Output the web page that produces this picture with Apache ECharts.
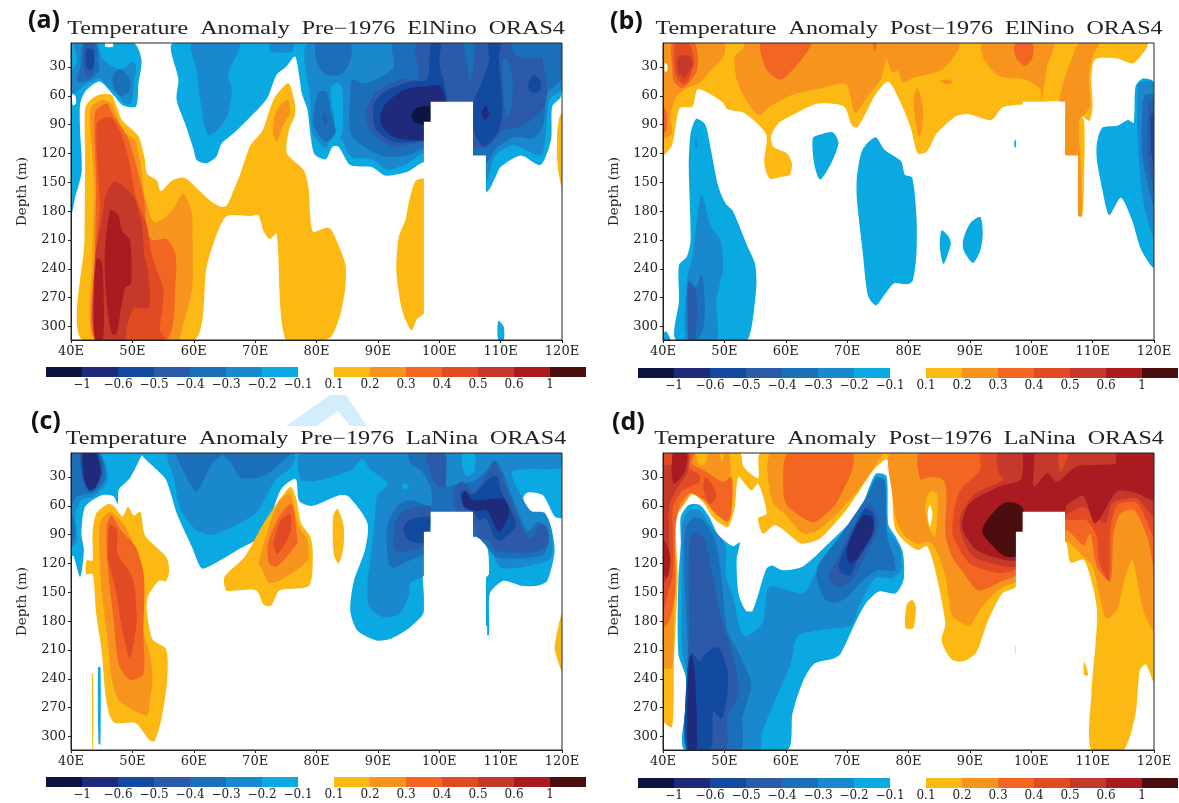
<!DOCTYPE html>
<html lang="en">

<head>
    <meta charset="utf-8" />
    <title>Temperature Anomaly ORAS4</title>
    <style>
        html, body { margin: 0; padding: 0; background: #fff; }
        #main { width: 1179px; height: 803px; }
    </style>
    <script src="https://cdn.jsdelivr.net/npm/echarts@6/dist/echarts.min.js"></script>
</head>

<body>
    <div id="main"></div>
    <script>
        // contour levels and their shades, same order as the colour bar
        const negLevels = [-1, -0.6, -0.5, -0.4, -0.3, -0.2, -0.1];
        const posLevels = [0.1, 0.2, 0.3, 0.4, 0.5, 0.6, 1];
        const negColors = ['#0c1440', '#202a7a', '#114a9f', '#2b5aa8', '#1b6fb9', '#1a88cc', '#0aa9e1'];
        const posColors = ['#fdb913', '#f7941d', '#f26522', '#e24a24', '#c4392a', '#a91b20', '#4b0e0e'];
        const negLabels = ['\u22121', '\u22120.6', '\u22120.5', '\u22120.4', '\u22120.3', '\u22120.2', '\u22120.1'];
        const posLabels = ['0.1', '0.2', '0.3', '0.4', '0.5', '0.6', '1'];

        const lonTicks = [40, 50, 60, 70, 80, 90, 100, 110, 120];
        const depthTicks = [30, 60, 90, 120, 150, 180, 210, 240, 270, 300];

        // missing data block [lon, depth]
        const landMask = [[97.5, 314], [97.5, 87], [98.6, 87], [98.6, 66], [105.5, 66], [105.5, 122], [107.6, 122], [107.6, 185], [107.8, 185], [107.8, 314]];

        // every panel: [level, outline in [lon, depth]], painted in this order, level 0 = no shading
        const panelA = [
            [-0.1, [[40, 5], [50.2, 5], [51.5, 23], [51, 47], [50.6, 71], [48.5, 70], [46.9, 59], [44.7, 45], [42.5, 54], [41.5, 68], [41.5, 99], [41.7, 120], [41.7, 141], [40.7, 165], [40.2, 181], [40, 181]]],
            [-0.1, [[56.7, 5], [57.5, 43], [57.2, 64], [58.6, 89], [60, 116], [60.5, 127], [62.1, 130], [63.7, 123], [64.5, 110], [66.5, 99], [69.2, 82], [71.9, 63], [73.5, 38], [75, 30], [76.5, 19], [77.2, 40], [77.6, 57], [78.5, 74], [79.6, 120], [81.5, 126], [82.6, 113], [83.6, 113], [85.5, 132], [89, 134], [91.3, 143], [94.8, 139], [97.5, 129], [100, 135], [107.6, 160], [109.2, 144], [110, 134], [113.3, 122], [116.5, 132], [118.2, 106], [118.4, 71], [119.8, 61], [120, 5]]],
            [-0.1, [[109.6, 294], [110.5, 300], [110.5, 314], [109.6, 314]]],
            [-0.2, [[40.6, 5], [44.2, 5], [45, 20], [48, 33], [50, 25], [50.6, 28], [50.2, 50], [49.8, 68], [48.8, 68], [47.5, 58], [46, 50], [44.7, 42], [42.5, 48], [41, 55], [40, 60], [40, 35], [41, 25]]],
            [-0.2, [[59.7, 5], [60.5, 35], [61, 61], [61.8, 92], [62.4, 101], [63.8, 96], [65.4, 82], [66.2, 54], [65.6, 37], [67.5, 5]]],
            [-0.2, [[72.4, 5], [72.6, 14], [76, 14], [76.2, 5]]],
            [-0.2, [[78.8, 5], [79, 64], [79.3, 99], [80, 105], [81.5, 115], [82.4, 105], [84, 105], [85.5, 123], [89, 126], [91.5, 137], [94.8, 130], [97.5, 120], [100, 125], [107.6, 148], [108.6, 130], [109.4, 120], [112.2, 111], [116.5, 122], [117.3, 103], [117.9, 64], [119.8, 54], [120, 5]]],
            [-0.1, [[82.4, 50], [83.5, 47], [84.2, 52], [84.3, 80], [84.2, 99], [83.5, 106], [82.6, 106], [82.9, 85], [82.4, 65]]],
            [-0.3, [[42, 5], [44, 5], [44.5, 20], [44.5, 35], [42.5, 45], [41, 45], [41.5, 30]]],
            [-0.3, [[46.8, 40], [48, 32], [49.5, 42], [49.5, 55], [48, 60], [47, 52]]],
            [-0.3, [[80, 5], [80.1, 26], [81.5, 38], [84.2, 37], [85.5, 23], [85.5, 5]]],
            [-0.3, [[80.4, 56], [81.7, 56], [82.3, 75], [83.1, 98], [81.5, 108], [79.6, 92], [79.6, 75]]],
            [-0.3, [[92.6, 5], [92.6, 30], [90, 42], [87.7, 47], [85.8, 43], [85.5, 61], [85.5, 99], [87.7, 113], [91, 123], [94.8, 122], [97.5, 115], [100, 120], [107.6, 130], [109.2, 115], [112.2, 103], [115.4, 104], [117, 89], [117.6, 57], [119.8, 43], [120, 5]]],
            [-0.4, [[42.3, 5], [43.8, 5], [43.8, 25], [43.6, 37], [42.5, 40], [42, 30]]],
            [-0.4, [[81, 80], [81.4, 78], [81.7, 86], [81.3, 92]]],
            [-0.4, [[96.4, 5], [96.7, 42], [93.7, 43], [89.6, 57], [88, 78], [89, 99], [92.6, 113], [97.5, 108], [100, 110], [107.6, 113], [110.5, 96], [113.3, 92], [116.8, 75], [117.6, 54], [116.8, 19], [116.8, 5]]],
            [-0.3, [[112, 5], [112.2, 16], [113.8, 21], [116.8, 19], [116.8, 5]]],
            [-0.3, [[110.3, 24], [111, 20], [111.9, 40], [111.8, 70], [111, 82], [110.6, 70]]],
            [-0.3, [[104, 5], [105.7, 5], [105.6, 30], [105, 47], [104.6, 30]]],
            [-0.5, [[42.5, 12], [43.6, 12], [43.8, 25], [43.3, 33], [42.5, 30]]],
            [-0.5, [[89.4, 68], [91.5, 54], [95.3, 45], [98, 43], [98.7, 5], [100.2, 5], [100, 26], [100.8, 47], [101.3, 66], [101, 90], [97.5, 106], [92.6, 108], [89.6, 94]]],
            [-0.5, [[108.1, 5], [110, 5], [109.7, 19], [110, 43], [110.3, 71], [109.7, 96], [107.3, 113], [105.7, 97], [105.7, 64], [106.7, 50], [108.1, 23]]],
            [-0.5, [[114.6, 45], [115.4, 38], [116.5, 45], [116.5, 54], [115.4, 57], [114.6, 54]]],
            [-0.6, [[90.4, 80], [91.3, 68], [94.2, 54], [97.5, 50], [100.2, 50], [101, 64], [100, 90], [97.5, 106], [95.9, 106], [92.6, 103], [90.7, 92]]],
            [-0.6, [[107.5, 70], [108.1, 78], [107.5, 85], [106.9, 78]]],
            [-1, [[95.5, 80], [96.2, 73], [98.6, 71], [98.8, 90], [97.4, 90], [95.9, 87]]],
            [0.1, [[41.8, 314], [42.2, 210], [42.3, 130], [42.3, 73], [43.2, 64], [44.5, 59], [46.6, 59], [47.5, 72], [48.3, 85], [51, 102], [52, 125], [52.4, 141], [54, 148], [54.6, 159], [56.5, 148], [58.4, 145], [60.5, 156], [62.5, 168], [64.3, 175], [65.4, 174], [66.5, 158], [67.6, 141], [69.2, 112], [71.2, 96], [73, 64], [75.4, 47], [76.5, 68], [76.5, 80], [75.5, 96], [75.2, 120], [77.9, 137], [78.7, 155], [79.4, 201], [81.7, 197], [82.5, 200], [84.7, 235], [84.7, 259], [83.9, 287], [82.5, 310], [81, 314], [75, 314], [73.5, 203], [72.4, 209], [71.4, 201], [70.5, 184], [69.2, 185], [65.4, 185], [63.8, 203], [62.1, 238], [60.1, 314]]],
            [0.1, [[97.6, 147], [96.1, 149], [95, 172], [94.5, 189], [93.4, 207], [93, 241], [93.7, 276], [94.5, 293], [95.5, 304], [96.4, 292], [97.6, 285]]],
            [0.1, [[120, 78], [119.6, 82], [119.2, 99], [119.3, 134], [120, 155]]],
            [0.2, [[43.2, 73], [45, 64], [46.6, 68], [48.5, 97], [50.4, 106], [51.5, 137], [51.8, 158], [53.4, 191], [55, 188], [56.7, 177], [58.3, 161], [59.7, 182], [59.8, 203], [59.7, 262], [58, 304], [57.5, 314], [43.9, 314], [43.5, 227], [43.8, 158], [43.4, 116]]],
            [0.2, [[75.4, 64], [75.7, 78], [74.6, 90], [73.5, 108], [72.9, 99], [73.3, 78], [74.1, 70]]],
            [0.3, [[43.9, 78], [45.8, 68], [46.9, 80], [49.3, 104], [50.7, 134], [52, 170], [52.3, 200], [53.2, 210], [55.6, 209], [57, 224], [57.1, 248], [55.6, 314], [44, 314], [43.9, 230], [44.1, 150]]],
            [0.4, [[44.2, 89], [46.4, 82], [48, 97], [49.3, 123], [50.7, 168], [52.3, 193], [53.2, 227], [55, 259], [55, 276], [54.5, 304], [55.4, 314], [44.2, 314], [44, 245], [44.2, 210], [44.7, 175]]],
            [0.5, [[47.2, 149], [50.2, 165], [51.5, 193], [52, 227], [52.6, 245], [52.7, 280], [50.2, 281], [49, 304], [48.8, 314], [44, 314], [43.9, 230], [45, 190], [45.8, 160]]],
            [0.6, [[46.4, 179], [47.7, 184], [48.3, 200], [49.6, 210], [49.8, 255], [48.8, 260], [47.4, 308], [46.6, 307], [45.8, 273], [45.5, 227]]],
            [0.6, [[44.2, 229], [45, 233], [45.3, 262], [45.2, 314], [43.9, 314], [43.8, 262]]],
            [0, [[40.2, 58], [40.7, 60], [40.8, 68], [40.3, 70]]],
            [0, [[45.6, 5], [46.8, 5], [46.8, 9], [45.6, 9]]]
        ];

        const panelB = [
            [0.1, [[40, 5], [118.8, 5], [116.7, 26], [114, 21], [110.4, 22], [109.8, 43], [110, 71], [109.5, 86], [108.3, 81], [105, 66], [98.6, 69], [95.3, 72], [93.5, 85], [89.9, 79], [87.8, 81], [85.7, 92], [84.5, 100], [83, 118], [81.5, 120], [80.3, 92], [78.5, 64], [76.7, 45], [74.6, 59], [72.8, 81], [71.6, 93], [70.7, 90], [69.5, 71], [65.3, 68], [61.7, 78], [58.9, 88], [57.6, 102], [58, 113], [60.2, 120], [61, 130], [60.7, 142], [59.5, 144], [57.4, 146], [56.5, 130], [56.8, 100], [53.3, 78], [50.5, 74], [49.6, 66], [45.7, 53], [44.8, 71], [42.7, 73], [41.5, 111], [40, 121]]],
            [0.1, [[107.6, 80], [108.6, 85], [108.6, 150], [108.3, 185], [107.5, 185]]],
            [0.2, [[40, 5], [49.9, 5], [49.9, 19], [48.1, 31], [46, 46], [43.6, 53], [42.1, 62], [41.2, 81], [41.5, 99], [40, 104]]],
            [0.2, [[53.2, 5], [53.2, 10], [51.7, 19], [52, 43], [53.5, 64], [55.6, 80], [57.4, 71], [61, 59], [65.8, 52], [69.8, 48], [71.3, 78], [73.4, 60], [75.5, 43], [76.4, 22], [77.3, 36], [78.2, 34], [79.1, 46], [80.9, 41], [85.7, 32], [88.1, 5]]],
            [0.2, [[92, 5], [92.3, 22], [94.7, 39], [98.9, 43], [101.4, 52], [101.7, 66], [102.6, 29], [103.6, 5]]],
            [0.2, [[107.7, 5], [111, 5], [110, 19], [109.4, 40], [109.6, 70], [108.6, 80], [107.8, 85], [107.6, 121], [105.5, 121], [105.5, 66], [104.6, 66], [105.5, 40], [106.7, 20]]],
            [0.2, [[107.6, 100], [108, 120], [108.2, 160], [108.2, 185], [107.6, 185]]],
            [0.2, [[85.1, 44], [86.5, 43], [87.2, 46], [86, 48]]],
            [0.2, [[80.9, 60], [81.5, 52], [82.4, 74], [82.1, 98], [81.6, 102], [80.9, 74]]],
            [0.3, [[40, 70], [40.6, 78], [40.6, 95], [40, 100]]],
            [0.3, [[41.5, 5], [45.1, 5], [45.7, 22], [45.4, 36], [43.3, 52], [41.8, 45], [41.5, 29]]],
            [0.3, [[56, 5], [64.1, 5], [62.3, 24], [59.2, 43], [56.8, 32]]],
            [0.3, [[97.4, 5], [100.2, 5], [100.2, 20], [99, 29], [97.4, 19]]],
            [0.3, [[74.2, 5], [74.8, 5], [74.5, 14]]],
            [0.4, [[42.1, 5], [44.2, 5], [45.1, 24], [44.2, 43], [43.3, 48], [42.1, 39], [41.8, 22]]],
            [0.5, [[42.4, 20], [44.2, 18], [44.8, 27], [43.5, 41], [42.5, 36]]],
            [0, [[40.3, 26], [40.7, 28], [40.7, 34], [40.3, 35]]],
            [-0.1, [[45.4, 84], [46.9, 90], [47.8, 116], [49, 154], [50.2, 172], [51.4, 180], [53.8, 217], [55, 235], [55.2, 259], [53.8, 314], [50.5, 314], [42.1, 314], [42.6, 273], [42.6, 236], [43.9, 227], [44.5, 210], [44.2, 133], [44.5, 99]]],
            [-0.1, [[40, 314], [40, 308], [40.5, 305], [41.2, 314]]],
            [-0.1, [[64.4, 104], [65.8, 100], [67.7, 98], [68.6, 109], [67.4, 130], [65.6, 147], [64.7, 133]]],
            [-0.1, [[74.6, 103], [76.1, 116], [78.8, 128], [79.4, 142], [80.6, 145], [81.3, 186], [81.3, 224], [80.7, 252], [79.8, 256], [77.7, 255], [76.2, 266], [74.7, 278], [73.4, 268], [72.5, 220], [71.6, 168], [71.6, 144], [72.5, 116]]],
            [-0.1, [[85.4, 200], [86.6, 207], [86.9, 214], [85.7, 235], [85.1, 217]]],
            [-0.1, [[91.7, 186], [92.1, 203], [91.7, 221], [90.5, 234], [89, 221], [88.9, 210], [90, 193]]],
            [-0.1, [[97.4, 105], [97.6, 112], [97.4, 114], [97.2, 110]]],
            [-0.1, [[117, 50], [118.2, 42], [120, 46], [120, 238], [117.9, 220], [116.4, 189], [114.6, 166], [112.7, 184], [111.6, 158], [110.7, 127], [110.7, 109], [111.6, 93], [114, 91], [115.8, 85], [116.7, 88]]],
            [-0.2, [[46.3, 163], [47.8, 196], [49.3, 210], [49.8, 238], [48.7, 273], [48.7, 314], [43.9, 314], [43.9, 252], [44.8, 227], [45.4, 196]]],
            [-0.2, [[45.4, 103], [45.6, 113], [45.4, 115], [45.2, 110]]],
            [-0.2, [[117.6, 46], [120, 47], [120, 207], [118.8, 186], [117.9, 154], [117.3, 99], [117.3, 60]]],
            [-0.3, [[44.1, 252], [45.4, 259], [46.3, 245], [46.8, 273], [46.6, 302], [45.5, 314], [44.1, 314]]],
            [-0.3, [[118.4, 60], [120, 59], [120, 175], [118.8, 147], [118, 116]]],
            [-0.4, [[44.2, 255], [45.3, 262], [45.5, 290], [45.1, 314], [44.2, 314]]],
            [-0.4, [[119.2, 67], [120, 66], [120, 158], [119, 123], [118.9, 99]]],
            [-0.5, [[119.5, 79], [120, 78], [120, 133], [119.5, 116]]]
        ];

        const panelC = [
            [-0.1, [[51.6, 5], [53.9, 22], [55.5, 33], [57.3, 69], [59.8, 104], [61.3, 125], [63.4, 120], [67.1, 106], [71.4, 89], [74.2, 43], [76.6, 32], [77.2, 55], [79.3, 60], [83.7, 49], [85.2, 50], [88.3, 78], [87.9, 106], [86.1, 138], [85.5, 169], [86.7, 190], [89.8, 200], [92.2, 198], [95.3, 186], [97.5, 170], [97.5, 90], [106, 90], [107.8, 103], [108.1, 131], [107.6, 135], [107.6, 194], [108.1, 194], [108.1, 158], [108.4, 149], [110.5, 138], [113.3, 143], [116, 143], [117.6, 138], [118.8, 107], [118.2, 82], [117.4, 78], [115, 71], [113.7, 52], [114.4, 46], [116.9, 49], [118.8, 71], [120, 72], [120, 5]]],
            [-0.1, [[40, 5], [51.6, 5], [51.4, 9], [49.6, 31], [47.8, 43], [47.6, 58], [46.9, 50], [45, 49], [42.3, 61], [41.7, 89], [42.1, 106], [41.5, 134], [40.4, 112], [40, 112]]],
            [-0.1, [[44.4, 228], [44.8, 228], [44.8, 308], [44.5, 308]]],
            [-0.2, [[40, 5], [44.7, 5], [46, 33], [43.8, 50], [41.7, 54], [40.7, 68], [41, 96], [40, 102]]],
            [-0.2, [[55.9, 5], [56.7, 30], [57.9, 64], [60.4, 85], [63.1, 90], [66.5, 81], [70.2, 67], [73.3, 33], [76, 19], [76.3, 5]]],
            [-0.2, [[77.5, 5], [77.5, 33], [80.6, 33], [85.6, 23], [87.5, 11], [88.6, 21], [91.3, 34], [91.5, 39], [89.9, 49], [89.4, 82], [88.8, 114], [88.3, 142], [88.6, 165], [91, 176], [93.5, 172], [95, 154], [95.3, 140], [97.5, 133], [100, 110], [106, 92], [108, 100], [110, 124], [114.9, 122], [118.2, 114], [118.2, 82], [117.1, 67], [114.9, 65], [112.6, 40], [111.8, 25], [114, 22], [120, 20], [120, 5]]],
            [-0.1, [[103.8, 5], [105.7, 5], [105.7, 25], [104.5, 29], [103.8, 20]]],
            [-0.1, [[94.4, 36], [95, 40], [94.4, 43], [94, 40]]],
            [-0.3, [[40, 5], [44.5, 5], [45.7, 30], [44, 45], [42.5, 48], [41, 50], [40, 58]]],
            [-0.3, [[40, 68], [40.6, 78], [40.6, 92], [40, 100]]],
            [-0.3, [[57.3, 5], [58.5, 26], [60.4, 45], [61.6, 33], [63.1, 15], [64.7, 5]]],
            [-0.3, [[64.7, 5], [66, 15], [67.7, 31], [71.4, 29], [75.6, 7], [75.8, 5]]],
            [-0.3, [[95.1, 5], [95.3, 16], [97, 23], [98.6, 41], [98.6, 60], [95.3, 54], [93.2, 60], [91.5, 82], [91.8, 121], [92.6, 124], [95.1, 117], [97.5, 110], [100, 95], [106, 92], [107.8, 103], [109.5, 114], [114.4, 114], [117.1, 110], [117.9, 96], [117.6, 82], [116, 77], [114.4, 86], [111.9, 51], [110, 20], [109, 13], [107.8, 23], [105.7, 34], [102.5, 38], [101, 40], [101, 5]]],
            [-0.4, [[41.6, 5], [44.5, 5], [45.2, 25], [44, 42], [42.8, 43], [41.8, 30]]],
            [-0.4, [[98, 5], [98.8, 30], [100, 40], [101, 40], [100.8, 5]]],
            [-0.4, [[95.1, 63], [93.4, 70], [92.6, 86], [92.9, 107], [97.5, 101], [98.6, 61]]],
            [-0.4, [[102.4, 42], [103.8, 35], [105.7, 46], [107.5, 30], [109, 13], [110.6, 37], [113.3, 79], [114.9, 94], [116.5, 78], [117.6, 86], [117.6, 100], [115.5, 108], [109.5, 107], [107.8, 95], [106.2, 93], [105.7, 79], [102.7, 65]]],
            [-0.5, [[41.8, 5], [44.2, 5], [45, 25], [44, 42], [43, 45], [42, 33]]],
            [-0.5, [[94.3, 81], [95.3, 74], [98.6, 72], [97.5, 98], [95.1, 96], [94.3, 89]]],
            [-0.5, [[103.4, 47], [103.8, 44], [105.5, 48], [108.4, 30], [109.5, 30], [110, 44], [112.5, 79], [110, 96], [109, 93], [107.6, 72], [106.5, 75], [105.7, 68], [103.8, 58]]],
            [-0.6, [[42, 5], [44, 5], [44.8, 25], [44, 40], [43, 43], [42.2, 32], [42, 20]]],
            [-0.6, [[103.8, 49], [104.3, 44], [105.4, 54], [110.6, 53], [111.4, 68], [109.7, 87], [107.8, 65], [105.7, 65], [104, 61]]],
            [0.1, [[46, 58], [46.9, 60], [48.4, 71], [49.3, 61], [50.2, 70], [51.3, 66], [52.1, 91], [55.5, 113], [56, 127], [55.5, 138], [54.3, 138], [52.5, 155], [52.4, 172], [53.3, 199], [55.5, 209], [55.7, 239], [54.8, 280], [53.6, 305], [52.7, 303], [50.5, 286], [47.2, 286], [46.3, 278], [45.6, 256], [45, 211], [44.1, 172], [43.8, 145], [43.5, 131], [42.5, 131], [42.5, 117], [43.5, 117], [43.5, 89], [44.1, 68]]],
            [0.1, [[43.4, 235], [43.6, 235], [43.6, 313], [43.45, 313]]],
            [0.1, [[65, 134], [68.3, 113], [71.4, 78], [75.7, 40], [76.6, 50], [77.5, 78], [79, 92], [79.4, 110], [78.8, 143], [74, 148], [72.6, 164], [71.4, 163], [70.2, 148], [66.9, 148], [65.3, 148]]],
            [0.1, [[83.4, 63], [84.4, 80], [84.4, 103], [83.6, 120], [82.8, 110], [82.7, 71]]],
            [0.1, [[120, 172], [118.8, 207], [119.3, 221], [120, 232]]],
            [0.2, [[44.7, 78], [46.3, 66], [48.7, 80], [50.2, 100], [51.6, 125], [51.8, 155], [51.8, 190], [52.9, 215], [53.3, 240], [52.8, 265], [52.4, 278], [50, 272], [47.7, 262], [46.6, 240], [46, 200], [45, 150], [44.7, 120]]],
            [0.2, [[70.6, 120], [71.9, 89], [73.7, 57], [75.7, 47], [76.9, 78], [78.5, 96], [78.5, 117], [74.5, 136], [72.3, 140], [71.2, 127]]],
            [0.3, [[45.8, 82], [46.6, 70], [48.1, 85], [50.6, 103], [51.9, 134], [51.8, 193], [51.8, 235], [49.6, 241], [47.8, 225], [46.9, 176], [46, 124]]],
            [0.3, [[72.1, 99], [74.2, 68], [76, 58], [76.9, 95], [76.9, 99], [73.6, 123], [72.3, 120]]],
            [0.4, [[46, 106], [46.3, 80], [47.5, 85], [47.6, 110], [50, 134], [50.7, 179], [49.6, 218], [48.4, 190], [47.2, 145], [46, 115]]],
            [0.4, [[73, 99], [74.2, 75], [75.7, 68], [75.7, 89], [73.6, 110]]]
        ];

        const panelD = [
            [0.1, [[40, 5], [52.5, 5], [53.1, 19], [55.5, 31], [56, 5], [120, 5], [120, 243], [118.7, 225], [117.7, 231], [117, 276], [115, 314], [109.8, 314], [109.8, 255], [110.7, 168], [108.6, 116], [106.4, 119], [105.5, 97], [100, 100], [97.6, 144], [95.3, 151], [92.8, 182], [91, 213], [88.7, 222], [86.9, 219], [85.4, 200], [86, 182], [84.2, 123], [83, 102], [81.5, 106], [79.4, 97], [77.9, 85], [77.5, 71], [77.3, 37], [76.5, 12], [74.3, 23], [69.9, 64], [65.6, 94], [63.4, 99], [62.3, 99], [58.3, 80], [56.3, 89], [55.5, 73], [56.9, 68], [55.5, 37], [54.4, 44], [52.3, 30], [51.7, 61], [50.6, 82], [48.4, 74], [46.6, 57], [44.8, 48], [43.6, 57], [42.1, 74], [42.4, 133], [41.8, 220], [41.5, 290], [40, 283]]],
            [0.1, [[79.7, 163], [80.6, 158], [81.2, 165], [80.8, 187], [79.5, 187]]],
            [0.1, [[108.6, 222], [109.3, 236], [108.6, 236]]],
            [0.2, [[40, 5], [50.5, 5], [51, 30], [50.5, 78], [48.7, 67], [46.9, 52], [44.8, 45], [43.9, 53], [41.8, 74], [42.1, 130], [41.8, 168], [41.5, 228], [40, 228]]],
            [0.1, [[45.5, 5], [47.2, 5], [47, 14], [46.3, 18], [45.6, 14]]],
            [0.1, [[49.3, 5], [50, 5], [49.6, 15]]],
            [0.2, [[57.7, 5], [57.7, 54], [60.2, 71], [62.9, 89], [65.6, 84], [71, 50], [74.8, 16], [75.6, 5]]],
            [0.2, [[77.3, 5], [77.3, 46], [78.2, 78], [79.7, 93], [81.5, 100], [83, 97], [84.2, 102], [86, 133], [86.6, 158], [87.2, 175], [89.9, 184], [91.7, 168], [93.5, 154], [95.6, 144], [97.6, 139], [100, 120], [105.5, 97], [108.5, 113], [110, 123], [112.2, 177], [114, 168], [115.2, 137], [116.5, 116], [118.2, 168], [120, 189], [120, 5]]],
            [0.1, [[82.7, 61], [83.5, 45], [84.6, 47], [84.7, 68], [84.3, 92], [83.3, 82]]],
            [0, [[83.1, 68], [83.5, 59], [83.9, 68], [83.5, 82]]],
            [0.3, [[40, 5], [45, 5], [44.7, 16], [46.6, 23], [49.8, 35], [51.2, 30], [51.2, 64], [50.6, 76], [48.7, 69], [46.6, 54], [44.4, 47], [42.8, 59], [42, 85], [42, 150], [41, 180], [40, 186]]],
            [0.3, [[60.4, 5], [59.6, 47], [60.4, 61], [64.5, 77], [67.8, 61], [69.1, 47], [70.8, 23], [70.8, 5]]],
            [0.3, [[81.9, 5], [81.9, 32], [83.5, 30], [85.7, 33], [86.2, 47], [86, 89], [87.1, 113], [89, 130], [91.4, 148], [95, 139], [97.6, 132], [100, 110], [105.5, 85], [108.5, 101], [109.6, 89], [110.7, 123], [112.9, 139], [113.4, 89], [114.5, 68], [116.7, 64], [118.9, 92], [119.7, 117], [120, 135], [120, 5]]],
            [0.4, [[40, 5], [44.4, 5], [44.2, 20], [46, 28], [45.8, 36], [44.4, 40], [43, 45], [41.6, 62], [41.6, 85], [41.6, 130], [40.8, 150], [40, 170]]],
            [0.4, [[46.9, 30], [48, 38], [48.7, 50], [47.7, 58], [46.9, 50], [46.6, 40]]],
            [0.4, [[91.9, 5], [91.7, 23], [88.4, 44], [87.3, 71], [87.3, 92], [90, 120], [94.9, 130], [97.6, 125], [100, 100], [105.5, 75], [106.9, 75], [109, 75], [110.7, 92], [111, 117], [112.6, 137], [112.9, 85], [114, 59], [117.2, 57], [119.7, 89], [120, 96], [120, 5]]],
            [0.5, [[40, 5], [44, 5], [44, 25], [43, 35], [42, 45], [41, 60], [41, 100], [41, 130], [40, 140]]],
            [0.5, [[94.7, 5], [94.7, 26], [95.5, 33], [90.9, 47], [88.4, 71], [88.7, 92], [90.6, 113], [95.5, 123], [97.6, 122], [100, 100], [105.5, 70], [108.5, 61], [110.4, 71], [112.1, 78], [113.2, 57], [117.2, 52], [120, 71], [120, 5]]],
            [0.6, [[41.7, 5], [43.9, 5], [43.5, 25], [41.8, 37], [41.4, 25]]],
            [0.6, [[40, 95], [40.9, 105], [41.2, 120], [40.6, 135], [40, 128]]],
            [0.6, [[98.7, 5], [100.4, 5], [100.4, 40], [102.6, 26], [104.2, 35], [107.4, 19], [113.7, 16], [114, 5], [120, 5], [120, 54], [117.2, 47], [114, 45], [110.4, 78], [108.5, 50], [105.8, 59], [105.5, 66], [100, 90], [97.6, 116], [95.5, 116], [91.1, 106], [88.7, 82], [90, 57], [94.7, 40], [98.2, 33], [98.7, 16]]],
            [0.4, [[40.1, 5], [41.3, 5], [41.4, 17], [40.2, 17]]],
            [0.4, [[104.5, 5], [106.1, 5], [104.7, 25]]],
            [1, [[95.5, 57], [97.4, 57], [98.7, 63], [98.8, 87], [97.6, 87], [97.6, 112], [95.5, 112], [93.3, 99], [92, 87], [93, 73]]],
            [-0.1, [[42.9, 71], [44.2, 59], [46, 59], [47.5, 71], [49, 90], [51.4, 102], [52.5, 98], [52, 116], [52.3, 151], [53.5, 169], [54.6, 169], [56.8, 126], [57.7, 122], [59.5, 127], [62.8, 123], [67, 99], [71.9, 67], [74.6, 27], [76.4, 29], [76.7, 79], [77.9, 92], [79.1, 109], [79.2, 137], [77.9, 151], [75.2, 149], [73.1, 161], [71.3, 182], [68.9, 214], [67.7, 219], [64.7, 224], [62.9, 241], [61.1, 276], [60.2, 314], [43.6, 314], [43.6, 273], [43.7, 238], [42.5, 214], [42.5, 137], [42.9, 99]]],
            [-0.1, [[97.5, 205], [97.7, 212], [97.5, 214]]],
            [-0.2, [[43.1, 81], [44.2, 65], [46, 65], [47.8, 81], [50.2, 102], [50.2, 133], [51.4, 154], [52.6, 189], [53.5, 196], [56.2, 182], [57.4, 144], [62.8, 151], [65.2, 127], [68.2, 106], [72.5, 71], [74.6, 33], [76.1, 33], [76.4, 83], [78.5, 102], [78.8, 127], [77.3, 135], [74.6, 135], [71.9, 165], [70.7, 184], [65.8, 189], [61.9, 196], [60.8, 224], [56.2, 294], [55.6, 314], [44, 314], [44, 238], [43.1, 210], [43.1, 140]]],
            [-0.3, [[43.6, 85], [45, 72], [46.5, 75], [48.5, 95], [49.5, 135], [50.5, 190], [52.5, 215], [54.2, 240], [54.4, 248], [53, 280], [52.6, 314], [44, 314], [44, 240], [44, 200], [43.6, 150]]],
            [-0.3, [[65.2, 123], [69.1, 89], [73.2, 50], [74.8, 30], [76.1, 33], [76.4, 70], [76.6, 95], [77.5, 110], [77.8, 127], [75, 127], [72.5, 138], [70, 155], [68, 161], [66.5, 158], [65.2, 140]]],
            [-0.4, [[44.5, 90], [45.8, 88], [46.9, 97], [48.1, 133], [49.6, 179], [51.4, 214], [52.3, 255], [50.5, 280], [50.2, 314], [44, 314], [44, 240], [44.3, 180], [44.2, 130]]],
            [-0.4, [[68.3, 116], [70.7, 85], [73.5, 57], [74.8, 68], [75.1, 83], [72.1, 123], [70.5, 139], [68.3, 144], [66.9, 134]]],
            [-0.5, [[43.9, 314], [43.9, 235], [44.6, 213], [46, 222], [47, 213], [49, 207], [50.5, 231], [50.5, 255], [49.6, 282], [48.2, 274], [47.7, 314]]],
            [-0.5, [[68.6, 122], [70.5, 92], [72.9, 63], [74.3, 68], [74.3, 89], [71.6, 118], [70.5, 132], [69.1, 130]]],
            [-0.6, [[44.1, 314], [44.1, 238], [44.5, 215], [45.1, 227], [45.5, 314]]],
            [-0.6, [[69.9, 110], [70.5, 94], [72.6, 70], [74, 71], [74.3, 85], [71.6, 115], [70.5, 120]]]
        ];

        const panels = [
            { title: 'Temperature  Anomaly  Pre\u22121976  ElNino  ORAS4', tag: '(a)', layers: panelA, left: 71, top: 43, titleX: 316, titleY: 29, tagX: 28, tagY: 21, barLeft: 46, barTop: 367 },
            { title: 'Temperature  Anomaly  Post\u22121976  ElNino  ORAS4', tag: '(b)', layers: panelB, left: 663, top: 43, titleX: 909, titleY: 29, tagX: 610, tagY: 22, barLeft: 638, barTop: 368 },
            { title: 'Temperature  Anomaly  Pre\u22121976  LaNina  ORAS4', tag: '(c)', layers: panelC, left: 71, top: 453, titleX: 316, titleY: 439, tagX: 31, tagY: 422, barLeft: 46, barTop: 777 },
            { title: 'Temperature  Anomaly  Post\u22121976  LaNina  ORAS4', tag: '(d)', layers: panelD, left: 663, top: 453, titleX: 909, titleY: 439, tagX: 612, tagY: 423, barLeft: 638, barTop: 778 }
        ];

        function levelColor(level) {
            if (level < 0) return negColors[negLevels.indexOf(level)];
            if (level > 0) return posColors[posLevels.indexOf(level)];
            return '#fff';
        }

        const serif = '"DejaVu Serif", serif';
        const grids = [], xAxes = [], yAxes = [], series = [], graphics = [];

        // a pale stray mark that sits above panel (c) in the source figure
        graphics.push({
            type: 'polygon', silent: true,
            shape: { points: [[286, 426], [330, 395], [346, 395], [367, 426], [350, 426], [338, 411], [317, 426]] },
            style: { fill: '#d2eefb' }
        });

        panels.forEach(function (p, n) {
            // plot, frame kept above the shading
            grids.push({ left: p.left, top: p.top, width: 491, height: 297, show: true, z: 10, borderColor: '#222', borderWidth: 1 });
            xAxes.push({
                type: 'value', gridIndex: 2 * n, min: lonTicks[0], max: lonTicks[lonTicks.length - 1], interval: 10, z: 10,
                splitLine: { show: false },
                axisLine: { onZero: false, lineStyle: { color: '#222' } },
                axisTick: { length: 3, lineStyle: { color: '#222' } },
                axisLabel: { color: '#222', fontFamily: serif, fontSize: 13, margin: 5, formatter: function (v) { return v + 'E'; } }
            });
            yAxes.push({
                type: 'value', gridIndex: 2 * n, inverse: true, min: 5, max: 314, z: 10,
                name: 'Depth (m)', nameLocation: 'middle', nameGap: 42, nameRotate: 90,
                nameTextStyle: { color: '#222', fontFamily: serif, fontSize: 13.5 },
                splitLine: { show: false },
                axisLine: { lineStyle: { color: '#222' } },
                axisTick: { length: 3, customValues: depthTicks, lineStyle: { color: '#222' } },
                axisLabel: { color: '#222', fontFamily: serif, fontSize: 13, margin: 5, customValues: depthTicks }
            });
            series.push({
                type: 'custom', xAxisIndex: 2 * n, yAxisIndex: 2 * n, clip: true, silent: true,
                data: p.layers.map(function (l, i) { return [i, l[0]]; }),
                encode: { x: [], y: [] },
                renderItem: function (params, api) {
                    const layer = p.layers[api.value(0)];
                    return {
                        type: 'polygon',
                        shape: { points: layer[1].map(function (pt) { return api.coord(pt); }), smooth: 0.25 },
                        style: { fill: levelColor(layer[0]) }
                    };
                }
            });
            series.push({
                type: 'custom', xAxisIndex: 2 * n, yAxisIndex: 2 * n, clip: true, silent: true, z: 3,
                data: [[0]],
                encode: { x: [], y: [] },
                renderItem: function (params, api) {
                    return {
                        type: 'polygon',
                        shape: { points: landMask.map(function (pt) { return api.coord(pt); }) },
                        style: { fill: '#fff' }
                    };
                }
            });

            // colour bar, 7 boxes, a gap, 7 boxes; labels sit on the box edges
            const labelBySlot = {};
            negLabels.forEach(function (t, i) { labelBySlot[i + 1] = t; });
            posLabels.forEach(function (t, i) { labelBySlot[i + 8] = t; });
            const boxes = negLevels.map(function (l, i) { return [i, l]; }).concat(posLevels.map(function (l, i) { return [i + 8, l]; }));
            grids.push({ left: p.barLeft, top: p.barTop, width: 540, height: 10 });
            xAxes.push({
                type: 'value', gridIndex: 2 * n + 1, min: 0, max: 15,
                splitLine: { show: false }, axisLine: { show: false }, axisTick: { show: false },
                axisLabel: {
                    color: '#222', fontFamily: serif, fontSize: 12, margin: 2, hideOverlap: false,
                    customValues: Object.keys(labelBySlot).map(Number),
                    formatter: function (v) { return labelBySlot[v]; }
                }
            });
            yAxes.push({ type: 'value', gridIndex: 2 * n + 1, min: 0, max: 1, show: false });
            series.push({
                type: 'custom', xAxisIndex: 2 * n + 1, yAxisIndex: 2 * n + 1, silent: true,
                data: boxes,
                encode: { x: 0, y: [] },
                renderItem: function (params, api) {
                    const a = api.coord([api.value(0), 1]);
                    const b = api.coord([api.value(0) + 1, 0]);
                    return {
                        type: 'rect',
                        shape: { x: a[0], y: a[1], width: b[0] - a[0], height: b[1] - a[1] },
                        style: { fill: levelColor(api.value(1)) }
                    };
                }
            });

            graphics.push({
                type: 'text', x: p.titleX, y: p.titleY, scaleX: 1.335, silent: true,
                style: { text: p.title, fill: '#222', font: '18px "Liberation Serif", serif', textAlign: 'center', textVerticalAlign: 'middle' }
            });
            graphics.push({
                type: 'text', x: p.tagX, y: p.tagY, silent: true,
                style: { text: p.tag, fill: '#111', font: 'bold 25px "Open Sans", sans-serif', textAlign: 'left', textVerticalAlign: 'middle' }
            });
        });

        const myChart = echarts.init(document.getElementById('main'));
        myChart.setOption({
            animation: false,
            backgroundColor: '#fff',
            grid: grids,
            xAxis: xAxes,
            yAxis: yAxes,
            series: series,
            graphic: graphics
        });
    </script>
</body>

</html>
